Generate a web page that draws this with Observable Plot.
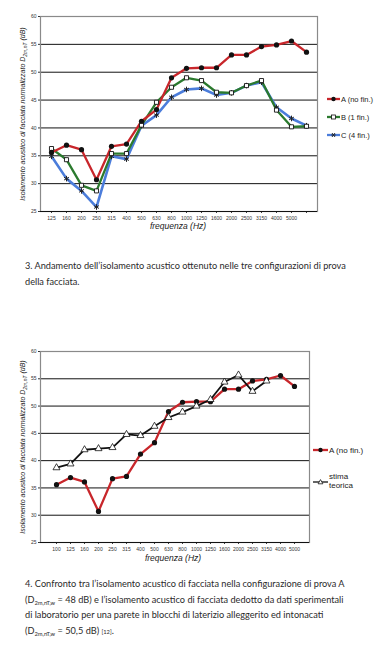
<!DOCTYPE html>
<html>
<head>
<meta charset="utf-8">
<script src="https://cdn.jsdelivr.net/npm/d3@7"></script>
<script src="https://cdn.jsdelivr.net/npm/@observablehq/plot@0.6"></script>
<style>
  html, body { margin: 0; padding: 0; background: #fff; }
  body { width: 379px; height: 653px; position: relative; overflow: hidden; font-family: "Liberation Sans", Arial, sans-serif; }
  .abs { position: absolute; white-space: nowrap; }
  .ytitle { font-style: italic; font-size: 7px; color: #222; transform: translate(-50%, -50%) rotate(-90deg); }
  .xtitle { font-style: italic; font-size: 8.5px; color: #222; transform: translate(-50%, -50%); }
  .leg { font-size: 7.5px; color: #222; display: flex; align-items: center; }
  .leg svg { margin-right: 1px; }
  .cap { font-family: Lato, "Liberation Sans", sans-serif; font-size: 9.2px; color: #2a2a2a; line-height: 15.6px; }
  .cap sub { font-size: 5.8px; vertical-align: -1.8px; line-height: 0; }
  .cap .ref { font-size: 5.8px; }
  sub { line-height: 0; }
</style>
</head>
<body>
<div id="c1" class="abs" style="left:0;top:0"></div>
<div id="c2" class="abs" style="left:0;top:330px"></div>
<script>
// ---------- data ----------
const freqLabels1 = ["125","160","200","250","315","400","500","630","800","1000","1250","1600","2000","2500","3150","4000","5000"];
const freqLabels2 = ["100","125","160","200","250","315","400","500","630","800","1000","1250","1600","2000","2500","3150","4000","5000"];
const seriesA = [35.6, 36.9, 36.1, 30.7, 36.7, 37.1, 41.2, 43.3, 49.0, 50.7, 50.8, 50.8, 53.1, 53.1, 54.6, 54.9, 55.6, 53.6];
const seriesB = [36.3, 34.3, 29.7, 28.7, 35.4, 35.4, 40.5, 44.6, 47.3, 49.0, 48.5, 46.4, 46.3, 47.6, 48.5, 43.2, 40.2, 40.3];
const seriesC = [34.9, 30.9, 28.7, 25.8, 34.9, 34.4, 40.4, 42.3, 45.5, 46.9, 47.1, 45.9, 46.3, 47.6, 48.2, 43.7, 41.7, 40.4];
const stimaTeorica = [38.7, 39.4, 42.0, 42.2, 42.4, 44.8, 44.6, 46.3, 47.9, 48.9, 50.0, 51.2, 54.4, 55.7, 52.7, 54.6];
const yTicks = [25, 30, 35, 40, 45, 50, 55, 60];
const gridLines = [30, 35, 40, 45, 50, 55];

const RED = "#c8262b", GREEN = "#2b7a2e", BLUE = "#4b7ddb";

const toRows = (vals) => vals.map((v, i) => ({i, v}));
const rowsA = toRows(seriesA), rowsB = toRows(seriesB), rowsC = toRows(seriesC), rowsS = toRows(stimaTeorica);

function baseOpts(labels, padding, mr, mt, mb) {
  return {
    width: 379, height: 240,
    marginTop: mt, marginBottom: mb, marginLeft: 40, marginRight: mr,
    style: {fontFamily: "Liberation Sans, Arial, sans-serif", fontSize: "5px", color: "#333", background: "transparent", overflow: "visible"},
    x: {type: "point", domain: d3.range(18), padding, tickSize: 2, tickPadding: 3,
        tickFormat: i => labels[i] ?? "", label: null},
    y: {domain: [25, 60], ticks: yTicks, tickSize: 2, tickPadding: 2, label: null}
  };
}

// ---------- chart 1 ----------
const p1 = Plot.plot({
  ...baseOpts(freqLabels1, 0.43, 62, 16, 29),
  marks: [
    Plot.ruleY(gridLines, {stroke: "#111", strokeWidth: 1}),
    Plot.frame({stroke: "#8a8a8a", strokeWidth: 1.2}),
    Plot.ruleY([25], {stroke: "#111"}),
    Plot.lineY(rowsC, {x: "i", y: "v", stroke: BLUE, strokeWidth: 2.6}),
    Plot.lineY(rowsB, {x: "i", y: "v", stroke: GREEN, strokeWidth: 2.3}),
    Plot.lineY(rowsA, {x: "i", y: "v", stroke: RED, strokeWidth: 2.3}),
    Plot.dot(rowsC, {x: "i", y: "v", symbol: "asterisk", r: 2.6, stroke: "#222", strokeWidth: 1}),
    Plot.dot(rowsB, {x: "i", y: "v", symbol: "square", r: 2.3, fill: "#fff", stroke: "#111", strokeWidth: 0.9}),
    Plot.dot(rowsA, {x: "i", y: "v", symbol: "circle", r: 2.6, fill: "#111", stroke: "none"})
  ]
});
document.getElementById("c1").appendChild(p1);

// ---------- chart 2 ----------
const p2 = Plot.plot({
  ...baseOpts(freqLabels2, 0.5, 70, 21, 28),
  marks: [
    Plot.ruleY(gridLines, {stroke: "#111", strokeWidth: 1}),
    Plot.frame({stroke: "#8a8a8a", strokeWidth: 1.2}),
    Plot.ruleY([25], {stroke: "#111"}),
    Plot.lineY(rowsA, {x: "i", y: "v", stroke: RED, strokeWidth: 2.3}),
    Plot.lineY(rowsS, {x: "i", y: "v", stroke: "#111", strokeWidth: 1.8}),
    Plot.dot(rowsA, {x: "i", y: "v", symbol: "circle", r: 2.6, fill: "#111", stroke: "none"}),
    Plot.dot(rowsS, {x: "i", y: "v", symbol: "triangle", r: 2.6, fill: "#fff", stroke: "#111", strokeWidth: 0.8})
  ]
});
document.getElementById("c2").appendChild(p2);

// ---------- overlay texts & legends ----------
function add(html, cls, style) {
  const d = document.createElement("div");
  d.className = "abs " + cls;
  d.setAttribute("style", style);
  d.innerHTML = html;
  document.body.appendChild(d);
  return d;
}
const ytxt = 'Isolamento acustico di facciata normalizzato D<sub style="font-size:5px">2m,nT</sub> (dB)';
add(ytxt, "ytitle", "left:22px;top:114px");
add("frequenza (Hz)", "xtitle", "left:178px;top:226px");
add(ytxt, "ytitle", "left:22px;top:447px");
add("frequenza (Hz)", "xtitle", "left:173px;top:558px");

function swatch(color, sym, w) {
  let m = "";
  const cx = w / 2, cy = 5;
  if (sym === "circle") m = `<circle cx="${cx}" cy="${cy}" r="2.2" fill="#111"/>`;
  if (sym === "square") m = `<rect x="${cx-2}" y="${cy-2}" width="4" height="4" fill="#fff" stroke="#111" stroke-width="0.8"/>`;
  if (sym === "asterisk") m = `<path d="M${cx-2.2},${cy}H${cx+2.2}M${cx-1.5},${cy-2}L${cx+1.5},${cy+2}M${cx-1.5},${cy+2}L${cx+1.5},${cy-2}" stroke="#222" stroke-width="0.9"/>`;
  if (sym === "triangle") m = `<path d="M${cx},${cy-2.4}L${cx+2.4},${cy+1.8}L${cx-2.4},${cy+1.8}Z" fill="#fff" stroke="#111" stroke-width="0.8"/>`;
  return `<svg width="${w}" height="10"><line x1="0" x2="${w}" y1="5" y2="5" stroke="${color}" stroke-width="${color === '#111' ? 1.3 : 2.3}"/>${m}</svg>`;
}
add(swatch(RED, "circle", 13) + "A (no fin.)", "leg", "left:327px;top:94px");
add(swatch(GREEN, "square", 13) + "B (1 fin.)", "leg", "left:327px;top:112px");
add(swatch(BLUE, "asterisk", 13) + "C (4 fin.)", "leg", "left:327px;top:130px");
add(swatch(RED, "circle", 15) + "A (no fin.)", "leg", "left:313px;top:445px;font-size:8px");
add(swatch("#111", "triangle", 15) + '<span style="line-height:8.5px">stima<br>teorica</span>', "leg", "left:313px;top:473px;font-size:8px");

// captions
add("3. Andamento dell’isolamento acustico ottenuto nelle tre configurazioni di prova<br>della facciata.", "cap", "left:25px;top:258px");
add("4. Confronto tra l’isolamento acustico di facciata nella configurazione di prova A<br>" +
    "(D<sub>2m,nT,w</sub> = 48 dB) e l’isolamento acustico di facciata dedotto da dati sperimentali<br>" +
    "di laboratorio per una parete in blocchi di laterizio alleggerito ed intonacati<br>" +
    "(D<sub>2m,nT,w</sub> = 50,5 dB) <span class=\"ref\">[12]</span>.", "cap", "left:25px;top:576px");
</script>
</body>
</html>
